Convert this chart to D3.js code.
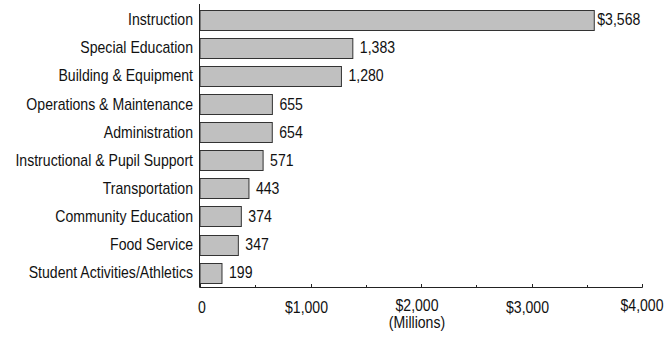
<!DOCTYPE html>
<html>
<head>
<meta charset="utf-8">
<script src="https://cdn.jsdelivr.net/npm/d3@7"></script>
<style>
  html, body { margin: 0; padding: 0; background: #fff; }
  svg { display: block; }
  text { font-family: "Liberation Sans Narrow", "Arial Narrow", "Liberation Sans", Arial, sans-serif; fill: #111; }
</style>
</head>
<body>
<svg id="chart" width="664" height="341"></svg>
<script>
const categories = [
  "Instruction",
  "Special Education",
  "Building & Equipment",
  "Operations & Maintenance",
  "Administration",
  "Instructional & Pupil Support",
  "Transportation",
  "Community Education",
  "Food Service",
  "Student Activities/Athletics"
];
const values = [3568, 1383, 1280, 655, 654, 571, 443, 374, 347, 199];
const xTickValues = [0, 1000, 2000, 3000, 4000];
const xMinorTickValues = [500, 1500, 2500, 3500];
const axisTitle = "(Millions)";

const SX = 0.88; // horizontal condensing to mimic a narrow face
const FS = 16;
const svg = d3.select("#chart");
const x = d3.scaleLinear().domain([0, 4000]).range([200, 642]);
const y = d3.scaleBand().domain(categories).range([4, 288]).paddingInner(0.3).paddingOuter(0.2);
const axisY = 287.5;

function place(sel, fx, fy) {
  sel.attr("transform", (d, i) => `translate(${fx(d, i)},${fy(d, i)}) scale(${SX},1)`);
}

// bars
svg.append("g").selectAll("rect").data(values).join("rect")
  .attr("x", x(0))
  .attr("y", (d, i) => Math.round(y(categories[i])) + 0.5)
  .attr("width", d => x(d) - x(0))
  .attr("height", Math.round(y.bandwidth()))
  .attr("fill", "#c0c0c0")
  .attr("stroke", "#333")
  .attr("stroke-width", 1);

// value labels
const fmt = d3.format(",");
svg.append("g").selectAll("text").data(values).join("text")
  .call(place, (d, i) => x(d) + (i === 0 ? 3 : 7), (d, i) => y(categories[i]) + y.bandwidth() / 2)
  .attr("dy", "0.36em")
  .attr("font-size", FS)
  .text((d, i) => (i === 0 ? "$" : "") + fmt(d));

// category labels
svg.append("g").selectAll("text").data(categories).join("text")
  .call(place, () => 193, d => y(d) + y.bandwidth() / 2)
  .attr("dy", "0.36em")
  .attr("text-anchor", "end")
  .attr("font-size", FS)
  .text(d => d);

// y axis line
svg.append("line")
  .attr("x1", 199.5).attr("x2", 199.5)
  .attr("y1", 4).attr("y2", axisY)
  .attr("stroke", "#222");

// x axis line
svg.append("line")
  .attr("x1", 199.5).attr("x2", x(4000) + 0.5)
  .attr("y1", axisY).attr("y2", axisY)
  .attr("stroke", "#222");

// major ticks
svg.append("g").selectAll("line").data(xTickValues).join("line")
  .attr("x1", d => Math.round(x(d)) + 0.5).attr("x2", d => Math.round(x(d)) + 0.5)
  .attr("y1", axisY).attr("y2", axisY - 3.5)
  .attr("stroke", "#222");
// minor ticks
svg.append("g").selectAll("line").data(xMinorTickValues).join("line")
  .attr("x1", d => Math.round(x(d)) + 0.5).attr("x2", d => Math.round(x(d)) + 0.5)
  .attr("y1", axisY).attr("y2", axisY - 2.5)
  .attr("stroke", "#222");

// tick labels
svg.append("g").selectAll("text").data(xTickValues).join("text")
  .call(place, d => x(d) + (d === 0 ? 2 : d === 4000 ? 0 : -4), (d, i) => (i === 2 || i === 4) ? 310.5 : 312.5)
  .attr("text-anchor", "middle")
  .attr("font-size", FS)
  .text(d => d === 0 ? "0" : "$" + fmt(d));

// axis title
svg.append("text")
  .call(place, () => 417, () => 328)
  .attr("text-anchor", "middle")
  .attr("font-size", FS)
  .text(axisTitle);
</script>
</body>
</html>
